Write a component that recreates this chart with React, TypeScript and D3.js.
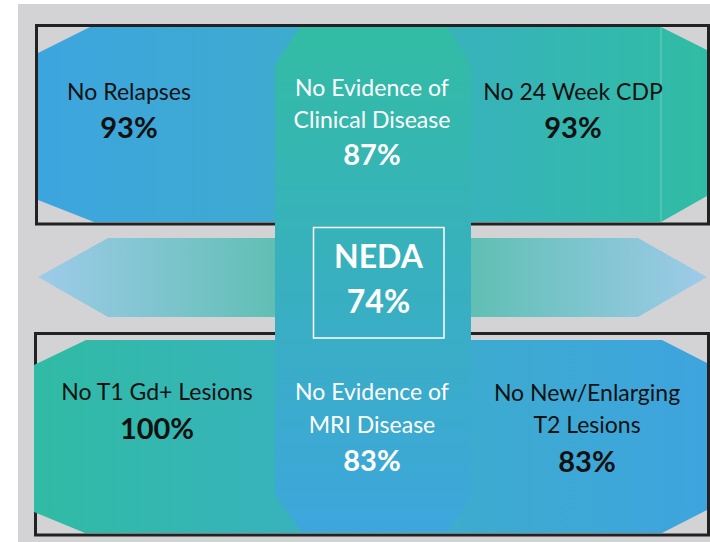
import React from "react";
import * as d3 from "d3";

// ---- Data ----
const topLabels = [["No Relapses"], ["No Evidence of", "Clinical Disease"], ["No 24 Week CDP"]];
const topValues = [93, 87, 93];
const bottomLabels = [["No T1 Gd+ Lesions"], ["No Evidence of", "MRI Disease"], ["No New/Enlarging", "T2 Lesions"]];
const bottomValues = [100, 83, 83];
const nedaLabel = "NEDA";
const nedaValue = 74;

// ---- Layout ----
const W = 710;
const H = 542;
const FONT = "Lato, 'Open Sans', sans-serif";

type Pt = [number, number];
const line = d3.line<Pt>().x((d) => d[0]).y((d) => d[1]).curve(d3.curveLinearClosed);

export default function App() {
  const topBand: Pt[] = [[90, 27], [661, 27], [707, 50], [707, 196], [661, 222], [94, 222], [38, 200], [38, 53]];
  const botBand: Pt[] = [[86, 340], [662, 340], [707, 363], [707, 510], [662, 533], [85, 533], [34, 512], [34, 365]];
  const vBand: Pt[] = [[300, 27], [447, 27], [471, 65], [471, 494], [447, 532], [302, 532], [275, 494], [275, 65]];
  const leftArrow: Pt[] = [[38, 277], [108, 238], [276, 238], [276, 317], [108, 317]];
  const rightArrow: Pt[] = [[470, 238], [638, 238], [707, 277], [638, 317], [470, 317]];

  const topX = [129, 372, 573];
  const botX = [157, 372, 587];
  const fs = 23;
  const vfs = 29;

  const renderGroup = (
    labels: string[][],
    values: number[],
    xs: number[],
    baselines: number[][],
    valueY: number[],
    colors: string[]
  ) =>
    labels.map((ls, i) => (
      <g key={i} fill={colors[i]} fontFamily={FONT} textAnchor="middle">
        {ls.map((t, j) => (
          <text key={j} x={xs[i]} y={baselines[i][j]} fontSize={fs}>
            {t}
          </text>
        ))}
        <text x={xs[i]} y={valueY[i]} fontSize={vfs} fontWeight="bold">
          {values[i]}%
        </text>
      </g>
    ));

  return (
    <svg width={W} height={H} style={{ position: "absolute", left: 0, top: 0 }}>
      <defs>
        <linearGradient id="gTop" x1="0" x2="1" y1="0" y2="0">
          <stop offset="0" stopColor="#3da5de" />
          <stop offset="0.35" stopColor="#3eaad1" />
          <stop offset="0.6" stopColor="#38b2bd" />
          <stop offset="1" stopColor="#30bca4" />
        </linearGradient>
        <linearGradient id="gBot" x1="0" x2="1" y1="0" y2="0">
          <stop offset="0" stopColor="#30bba4" />
          <stop offset="0.4" stopColor="#38b2bd" />
          <stop offset="0.65" stopColor="#3dabd0" />
          <stop offset="1" stopColor="#3ea4de" />
        </linearGradient>
        <linearGradient id="gV" x1="0" x2="0" y1="0" y2="1">
          <stop offset="0" stopColor="#32bca4" />
          <stop offset="0.5" stopColor="#38b0bf" />
          <stop offset="1" stopColor="#3ea6dd" />
        </linearGradient>
        <linearGradient id="gL" x1="0" x2="1" y1="0" y2="0">
          <stop offset="0" stopColor="#9ecbe9" />
          <stop offset="1" stopColor="#60bfb4" />
        </linearGradient>
        <linearGradient id="gR" x1="0" x2="1" y1="0" y2="0">
          <stop offset="0" stopColor="#60bfb4" />
          <stop offset="1" stopColor="#9ecbe9" />
        </linearGradient>
      </defs>
      <rect x={0} y={0} width={W} height={H} fill="#ffffff" />
      <rect x={18} y={4} width={W - 18} height={H - 4} fill="#d3d3d5" />

      {/* boxes */}
      <rect x={36.5} y={25.5} width={672} height={198.5} fill="none" stroke="#222" strokeWidth={3} />
      <rect x={35.5} y={333.5} width={673} height={201.5} fill="none" stroke="#222" strokeWidth={3} />

      {/* bands */}
      <path d={line(topBand) || ""} fill="url(#gTop)" />
      <line x1={661} x2={661} y1={27} y2={222} stroke="#6fd0c0" strokeWidth={1} />
      <path d={line(botBand) || ""} fill="url(#gBot)" />
      <path d={line(leftArrow) || ""} fill="url(#gL)" />
      <path d={line(rightArrow) || ""} fill="url(#gR)" />
      <path d={line(vBand) || ""} fill="url(#gV)" />

      {/* NEDA */}
      <rect x={313.5} y={227.5} width={130.5} height={110.5} fill="none" stroke="#ffffff" strokeWidth={1.5} />
      <g fill="#ffffff" fontFamily={FONT} fontWeight="bold" textAnchor="middle" fontSize={32}>
        <text x={378.5} y={268}>{nedaLabel}</text>
        <text x={378.5} y={313}>{nedaValue}%</text>
      </g>

      {renderGroup(topLabels, topValues, topX, [[100], [96, 128], [100]], [138, 165, 138], ["#111", "#fff", "#111"])}
      {renderGroup(bottomLabels, bottomValues, botX, [[400], [400, 433], [401, 433]], [439, 471, 472], ["#111", "#fff", "#111"])}
    </svg>
  );
}
